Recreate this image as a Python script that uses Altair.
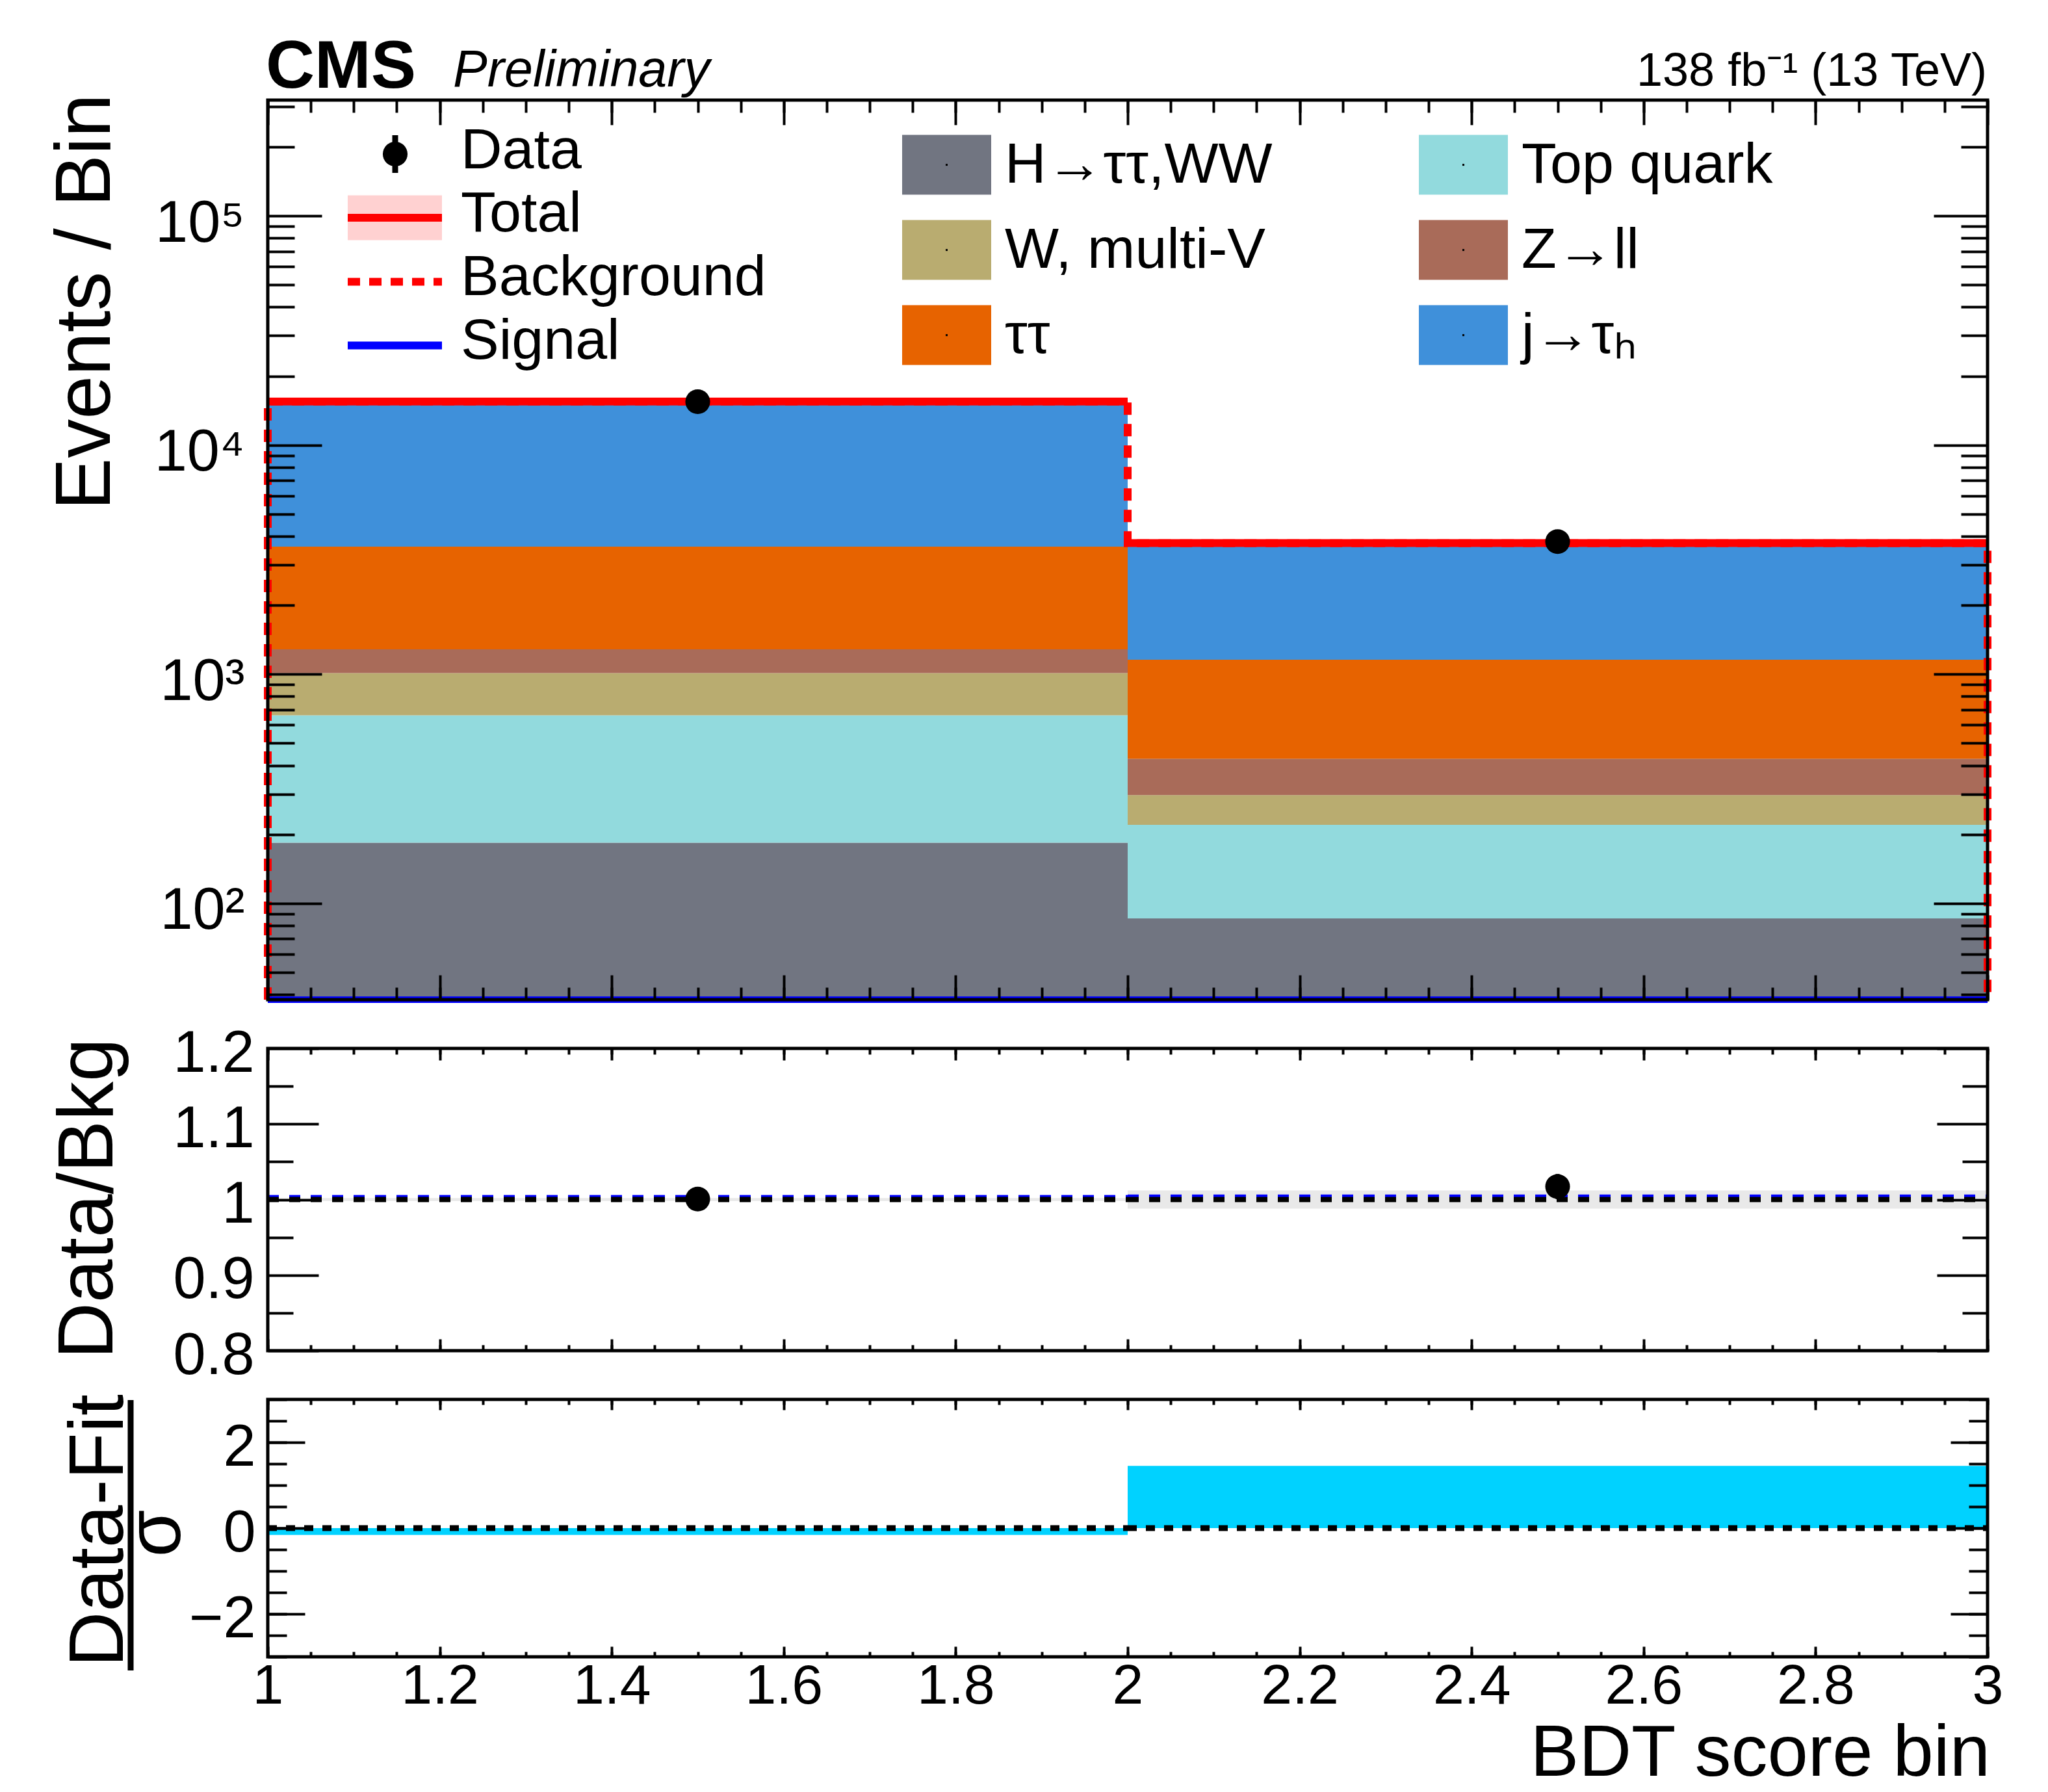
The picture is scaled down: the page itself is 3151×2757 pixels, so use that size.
import altair as alt
import pandas as pd

# ---------------- data ----------------
bin_lo = [1.0, 2.0]
bin_hi = [2.0, 3.0]
bin_center = [1.5, 2.5]

proc_names = ["H→ττ,WW", "Top quark", "W, multi-V", "Z→ll", "ττ", "j→τₕ"]
proc_colors = ["#717581", "#92dadd", "#b9ac70", "#a96b59", "#e76300", "#3f90da"]
yield_htt = [184, 86]
yield_top = [478, 134]
yield_wv = [350, 77]
yield_zll = [272, 131]
yield_tautau = [2321, 729]
yield_fake = [11845, 2569]
signal_yield = [25, 9]
data_obs = [15460, 3790]
data_err = [124, 62]
ratio_unc = [0.002, 0.012]
pulls = [-0.16, 1.45]

x_major = [1.0, 1.2, 1.4, 1.6, 1.8, 2.0, 2.2, 2.4, 2.6, 2.8, 3.0]
y_top_major = [100, 1000, 10000, 100000]
y_ratio_major = [0.8, 0.9, 1.0, 1.1, 1.2]
y_ratio_minor = [0.85, 0.95, 1.05, 1.15]
y_pull_major = [-2, 0, 2]

FONT = "Liberation Sans"
W = 2646
H_TOP, H_RATIO, H_PULL = 1384, 465, 396
FLOOR = 1.0  # below the axis minimum (clamped to the bottom edge)

x_minor = [round(1 + 0.05 * i, 2) for i in range(41)]
y_top_minor = [k * 10 ** n for n in range(1, 6) for k in range(2, 10) if 38 <= k * 10 ** n <= 320000]
y_pull_minor = [round(-3 + 0.5 * i, 1) for i in range(13)]

# ---------------- derived tables ----------------
yields = [yield_htt, yield_top, yield_wv, yield_zll, yield_tautau, yield_fake]
stack_rows = []
for b in range(len(bin_lo)):
    cum = 0.0
    for name, ys in zip(proc_names, yields):
        y0 = cum if cum > 0 else FLOOR
        cum += ys[b]
        stack_rows.append(dict(lo=bin_lo[b], hi=bin_hi[b], y0=y0, y1=cum, proc=name))
stack_df = pd.DataFrame(stack_rows)

bkg = [sum(ys[b] for ys in yields) for b in range(len(bin_lo))]
total = [bkg[b] + signal_yield[b] for b in range(len(bin_lo))]

bins_df = pd.DataFrame({
    "lo": bin_lo, "hi": bin_hi, "c": bin_center,
    "total": total, "bkg": bkg, "sig": signal_yield,
    "data": data_obs,
    "dlo": [d - e for d, e in zip(data_obs, data_err)],
    "dhi": [d + e for d, e in zip(data_obs, data_err)],
    "r": [d / b for d, b in zip(data_obs, bkg)],
    "rlo": [(d - e) / b for d, e, b in zip(data_obs, data_err, bkg)],
    "rhi": [(d + e) / b for d, e, b in zip(data_obs, data_err, bkg)],
    "one": [b / b for b in bkg],
    "rsig": [(b + s) / b for b, s in zip(bkg, signal_yield)],
    "ulo": [1 - u for u in ratio_unc],
    "uhi": [1 + u for u in ratio_unc],
    "pull": pulls,
    "zero": [0.0 for _ in pulls],
})

step_rows = [dict(i=0, x=bin_lo[0], y=FLOOR)]
k = 1
for b in range(len(bin_lo)):
    step_rows.append(dict(i=k, x=bin_lo[b], y=bkg[b])); k += 1
    step_rows.append(dict(i=k, x=bin_hi[b], y=bkg[b])); k += 1
step_rows.append(dict(i=k, x=bin_hi[-1], y=FLOOR))
step_df = pd.DataFrame(step_rows)

one = pd.DataFrame({"k": [0]})

# ---------------- scales ----------------
xs = alt.Scale(domain=[1, 3], nice=False, zero=False)
ys_top = alt.Scale(type="log", domain=[38, 320000], nice=False, clamp=True)
ys_ratio = alt.Scale(domain=[0.8, 1.2], nice=False, zero=False, clamp=True)
ys_pull = alt.Scale(domain=[-3, 3], nice=False, zero=False)


# ---------------- helpers ----------------
def text_mark(s, x, y, size, align="left", baseline="alphabetic", angle=0, style="normal", weight="normal"):
    kw = dict(text=s, font=FONT, fontSize=size, align=align, baseline=baseline,
              color="black", fontStyle=style, fontWeight=weight)
    if angle:
        kw["angle"] = angle
    return alt.Chart(one).mark_text(**kw).encode(x=alt.value(x), y=alt.value(y))


def rect_px(x1, x2, y1, y2, **kw):
    return alt.Chart(one).mark_rect(**kw).encode(
        x=alt.value(x1), x2=alt.value(x2), y=alt.value(y1), y2=alt.value(y2))


def rule_px(x1, x2, y1, y2, **kw):
    return alt.Chart(one).mark_rule(**kw).encode(
        x=alt.value(x1), x2=alt.value(x2), y=alt.value(y1), y2=alt.value(y2))


def tick_axis(orient, vals, size):
    return alt.Axis(orient=orient, values=vals, ticks=True, tickSize=size, offset=-size,
                    tickWidth=4, tickColor="black", labels=False, domain=False,
                    grid=False, title=None, zindex=3)


def label_axis(orient, vals, expr, pad, offset=0, size=90):
    return alt.Axis(orient=orient, values=vals, ticks=False, tickSize=0, domain=False,
                    labels=True, labelExpr=expr, labelFont=FONT, labelFontSize=size,
                    labelColor="black", labelPadding=pad, labelOffset=offset,
                    labelFlush=False, labelOverlap=False, grid=False, title=None, zindex=3)


def carriers(ys, xv, yv, y_maj, y_min, xt, xtm, yt, ytm, y_lab, x_lab=None):
    df = pd.DataFrame({"cx": [xv], "cy": [yv]})
    base = alt.Chart(df).mark_point(opacity=0, size=1)
    pairs = [
        (tick_axis("bottom", x_major, xt), tick_axis("left", y_maj, yt)),
        (tick_axis("bottom", x_minor, xtm), tick_axis("left", y_min, ytm)),
        (tick_axis("top", x_major, xt), tick_axis("right", y_maj, yt)),
        (tick_axis("top", x_minor, xtm), tick_axis("right", y_min, ytm)),
        (x_lab, y_lab),
    ]
    return [base.encode(x=alt.X("cx:Q", scale=xs, axis=ax),
                        y=alt.Y("cy:Q", scale=ys, axis=ay)) for ax, ay in pairs]


def frame(h):
    return rect_px(0, W, 0, h, fillOpacity=0, stroke="black", strokeWidth=5)


# ---------------- top panel ----------------
bars = alt.Chart(stack_df).mark_rect(strokeWidth=0).encode(
    x=alt.X("lo:Q", scale=xs, axis=None), x2="hi:Q",
    y=alt.Y("y1:Q", scale=ys_top, axis=None), y2="y0:Q",
    color=alt.Color("proc:N", scale=alt.Scale(domain=proc_names, range=proc_colors), legend=None),
)
bkg_line = alt.Chart(step_df).mark_line(color="#ff0000", strokeWidth=12, strokeDash=[19, 14], strokeCap="butt").encode(
    x=alt.X("x:Q", scale=xs, axis=None), y=alt.Y("y:Q", scale=ys_top, axis=None), order="i:Q")
total_line = alt.Chart(bins_df).mark_rule(color="#ff0000", strokeWidth=12).encode(
    x=alt.X("lo:Q", scale=xs, axis=None), x2="hi:Q", y=alt.Y("total:Q", scale=ys_top, axis=None))
sig_line = alt.Chart(bins_df).mark_rule(color="#0000ff", strokeWidth=10).encode(
    x=alt.X("lo:Q", scale=xs, axis=None), x2="hi:Q", y=alt.Y("sig:Q", scale=ys_top, axis=None))
data_err_top = alt.Chart(bins_df).mark_rule(color="black", strokeWidth=6).encode(
    x=alt.X("c:Q", scale=xs, axis=None), y=alt.Y("dlo:Q", scale=ys_top, axis=None), y2="dhi:Q")
data_pts_top = alt.Chart(bins_df).mark_point(filled=True, size=1450, color="black", opacity=1, strokeWidth=0).encode(
    x=alt.X("c:Q", scale=xs, axis=None), y=alt.Y("data:Q", scale=ys_top, axis=None))

top_label_expr = ("datum.value == 100 ? '10²' : datum.value == 1000 ? '10³' : "
                  "datum.value == 10000 ? '10⁴' : '10⁵'")
top_layers = [bars, bkg_line, total_line, sig_line, data_err_top, data_pts_top]
top_layers += carriers(ys_top, 1.5, 1000, y_top_major, y_top_minor, 38, 19, 83, 41,
                       label_axis("left", y_top_major, top_label_expr, 36, 12))

# left legend
top_layers += [
    rule_px(196, 196, 54, 112, color="black", strokeWidth=9),
    alt.Chart(one).mark_point(filled=True, size=1450, color="black", opacity=1, strokeWidth=0).encode(
        x=alt.value(196), y=alt.value(83)),
    text_mark("Data", 297, 104.7, 88),
    rect_px(123, 268, 146.5, 215.4, color="#ff0000", opacity=0.18),
    rule_px(123, 268, 181, 181, color="#ff0000", strokeWidth=12),
    text_mark("Total", 297, 201.6, 88),
    rule_px(123, 268, 279.5, 279.5, color="#ff0000", strokeWidth=12, strokeDash=[19, 14]),
    text_mark("Background", 297, 300, 88),
    rule_px(123, 268, 377.6, 377.6, color="#0000ff", strokeWidth=12),
    text_mark("Signal", 297, 398, 88),
]
# right legend
LEG_X0, LEG_DX, LEG_Y0, LEG_DY = 976, 795, 53.6, 131
for i, (name, col) in enumerate(zip(proc_names, proc_colors)):
    c, r = i % 2, i // 2
    bx = LEG_X0 + c * LEG_DX
    by = LEG_Y0 + r * LEG_DY
    top_layers.append(rect_px(bx, bx + 137, by, by + 92, color=col, opacity=1))
    top_layers.append(alt.Chart(one).mark_square(size=9, color="black", opacity=1).encode(
        x=alt.value(bx + 68.5), y=alt.value(by + 46)))
    top_layers.append(text_mark(name, bx + 158, by + 73, 88))

# header and title
top_layers += [
    text_mark("CMS", -3, -19.3, 104, weight="bold"),
    text_mark("Preliminary", 285, -21.4, 79, style="italic"),
    text_mark("138 fb⁻¹ (13 TeV)", 2645, -22.3, 72, align="right"),
    text_mark("Events / Bin", -243, -9.5, 120, align="right", angle=270),
    frame(H_TOP),
    rule_px(-403, -403, -145, -145, color="white", strokeOpacity=0, strokeWidth=1),
]
top = alt.layer(*top_layers).properties(width=W, height=H_TOP).resolve_axis(x="independent", y="independent")

# ---------------- ratio panel ----------------
band = alt.Chart(bins_df).mark_rect(color="#9a9a9a", opacity=0.22, strokeWidth=0).encode(
    x=alt.X("lo:Q", scale=xs, axis=None), x2="hi:Q",
    y=alt.Y("uhi:Q", scale=ys_ratio, axis=None), y2="ulo:Q")
sig_ratio = alt.Chart(bins_df).mark_rule(color="#0000ff", strokeWidth=10, strokeDash=[17, 16]).encode(
    x=alt.X("lo:Q", scale=xs, axis=None), x2="hi:Q", y=alt.Y("rsig:Q", scale=ys_ratio, axis=None))
bkg_ratio = alt.Chart(bins_df).mark_rule(color="black", strokeWidth=8, strokeDash=[17, 16]).encode(
    x=alt.X("lo:Q", scale=xs, axis=None), x2="hi:Q", y=alt.Y("one:Q", scale=ys_ratio, axis=None))
ratio_err = alt.Chart(bins_df).mark_rule(color="black", strokeWidth=6).encode(
    x=alt.X("c:Q", scale=xs, axis=None), y=alt.Y("rlo:Q", scale=ys_ratio, axis=None), y2="rhi:Q")
ratio_pts = alt.Chart(bins_df).mark_point(filled=True, size=1450, color="black", opacity=1, strokeWidth=0).encode(
    x=alt.X("c:Q", scale=xs, axis=None), y=alt.Y("r:Q", scale=ys_ratio, axis=None))

ratio_layers = [band, sig_ratio, bkg_ratio, ratio_err, ratio_pts]
ratio_layers += carriers(ys_ratio, 1.5, 1.0, y_ratio_major, y_ratio_minor, 18, 9, 78, 39,
                         label_axis("left", y_ratio_major,
                                    "datum.value == 1 ? '1' : format(datum.value, '.1f')", 21, 8))
ratio_layers += [
    text_mark("Data/Bkg", -239, 231, 120, align="center", angle=270),
    frame(H_RATIO),
]
ratio = alt.layer(*ratio_layers).properties(width=W, height=H_RATIO).resolve_axis(x="independent", y="independent")

# ---------------- pull panel ----------------
pull_bars = alt.Chart(bins_df).mark_rect(color="#00d2ff", strokeWidth=0).encode(
    x=alt.X("lo:Q", scale=xs, axis=None), x2="hi:Q",
    y=alt.Y("pull:Q", scale=ys_pull, axis=None), y2="zero:Q")
zero_line = alt.Chart(bins_df).mark_rule(color="black", strokeWidth=9, strokeDash=[14, 14]).encode(
    x=alt.X("lo:Q", scale=xs, axis=None), x2="hi:Q", y=alt.Y("zero:Q", scale=ys_pull, axis=None))

pull_layers = [pull_bars, zero_line]
pull_layers += carriers(ys_pull, 1.5, 0.0, y_pull_major, y_pull_minor, 16, 8, 57, 29,
                        label_axis("left", y_pull_major, "format(datum.value, 'd')", 19, 8),
                        label_axis("bottom", x_major, "format(datum.value, '~g')", 3, 0, 86))
pull_layers += [
    text_mark("Data-Fit", -223.5, 202, 118, align="center", angle=270),
    rule_px(-211, -211, 1, 417, color="black", strokeWidth=9),
    text_mark("σ", -135.5, 206, 118, align="center", angle=270),
    text_mark("BDT score bin", 2650, 579, 112, align="right"),
    frame(H_PULL),
]
pull = alt.layer(*pull_layers).properties(width=W, height=H_PULL).resolve_axis(x="independent", y="independent")

chart = alt.vconcat(top, ratio, pull, spacing=75, bounds="flush").properties(
    padding={"left": 0, "top": 0, "right": 20, "bottom": 20}
).configure_view(stroke="transparent")

chart.save("out.html", embed_options={"renderer": "svg", "actions": False})
